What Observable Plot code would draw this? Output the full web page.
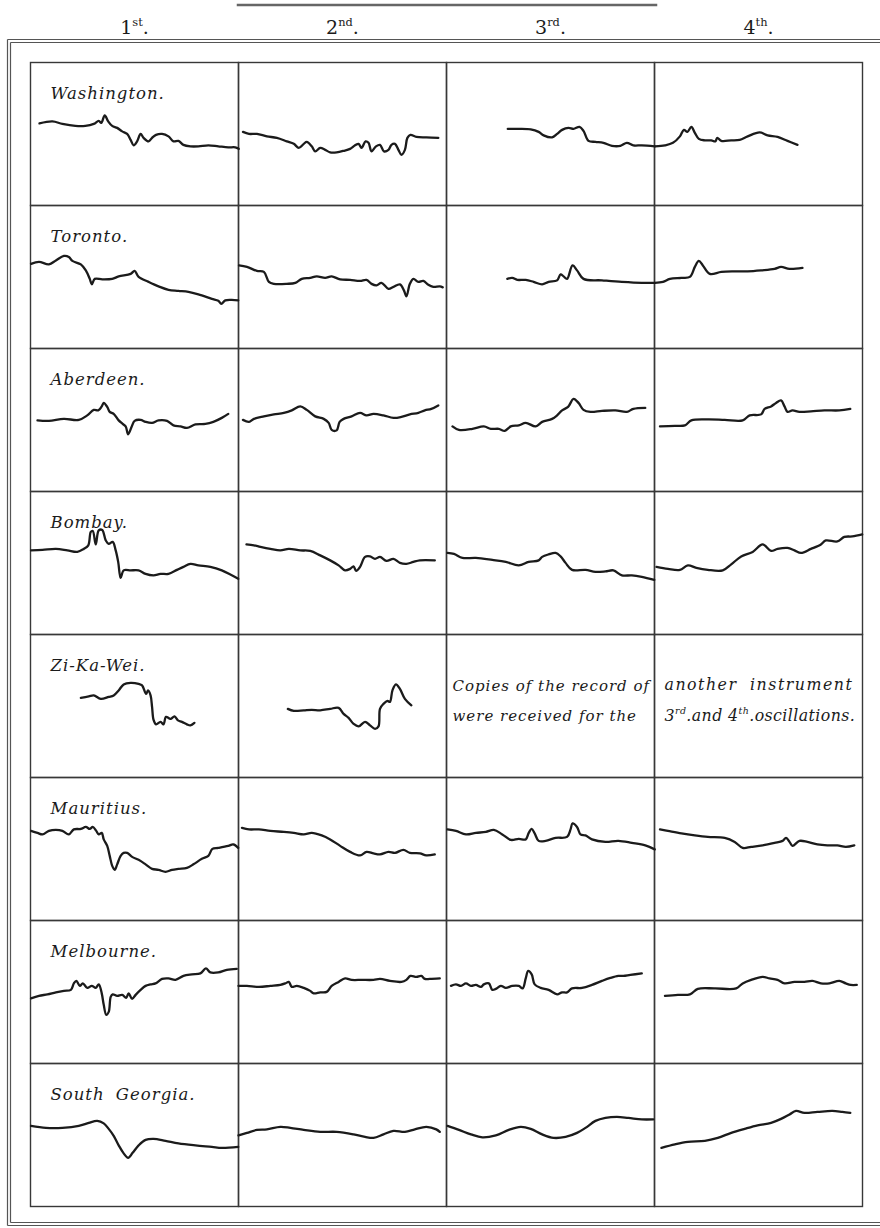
<!DOCTYPE html>
<html>
<head>
<meta charset="utf-8">
<script src="https://cdn.jsdelivr.net/npm/d3@7"></script>
<script src="https://cdn.jsdelivr.net/npm/@observablehq/plot@0.6"></script>
<style>
  html, body { margin: 0; padding: 0; background: #fff; overflow: hidden; }
  #chart svg { display: block; }
</style>
</head>
<body>
<div id="chart"></div>
<script>
// Recording stations (rows) and oscillations (columns)
const stations = ["Washington.", "Toronto.", "Aberdeen.", "Bombay.", "Zi-Ka-Wei.", "Mauritius.", "Melbourne.", "South Georgia."];
const oscillations = ["1st", "2nd", "3rd", "4th"];

// Each trace: [time along the sheet, pen deflection measured down from the top of the cell]
const washington = [
  [[9,61],[22,59],[32,61.5],[45,63.5],[55,63.5],[63.5,61.5],[68.5,58.5],[71,60.5],[74.5,53],[78,59],[82,63.5],[87,65.5],[92,69],[97,71.5],[100.5,77.5],[103.5,83],[107,79],[110.5,71.5],[113.5,75.5],[118.5,79],[122,75.5],[126,72.5],[132,71.5],[138.5,74],[143.5,79],[148.5,78.5],[153.5,82.5],[160.5,84],[168.5,84],[178.5,83],[188.5,84],[198.5,85],[205.5,85],[209,86.5]],
  [[4.5,69.5],[10.5,71.5],[18.5,71.5],[28.5,74],[38.5,75.5],[48.5,79],[55.5,81.5],[60.5,85.5],[65.5,81.5],[68.5,79.5],[73.5,84],[77,89],[82,85.5],[87,87.5],[92,90],[98.5,90],[105.5,88.5],[112,86.5],[117,83],[120.5,81.5],[123.5,85.5],[127.5,79],[130.5,80.5],[133.5,89],[138,84],[142,82.5],[146,89],[150.5,87.5],[153.5,82.5],[157,81.5],[160.5,87.5],[163.5,92.5],[167,87.5],[169.5,75.5],[172.5,72.5],[178.5,74.5],[188.5,75],[200.5,75.5]],
  [[61.5,66.5],[72.5,66.5],[84.5,67],[92.5,69.5],[97.5,73],[106,75],[111,71.5],[116,67.5],[122.5,65.5],[127.5,66.5],[133.5,64.5],[137.5,68.5],[142.5,78.5],[149.5,79.5],[157.5,80.5],[166,83.5],[174.5,83.5],[181,80.5],[187.5,83],[196,83],[209,84]],
  [[0.5,84],[10.5,83],[18.5,80.5],[25.5,74],[29.5,67.5],[33,69.5],[37,64.5],[40.5,70.5],[44.5,76.5],[50.5,78],[57,78],[61,79],[63,75.5],[67,78.5],[77,78],[85.5,77.5],[93.5,74],[105.5,70],[113.5,73],[123.5,74.5],[133.5,78.5],[143.5,82.5]]
];
const toronto = [
  [[0.5,58.5],[8.5,56.5],[18.5,59],[25.5,55],[33.5,50.5],[38.5,51.5],[42,55.5],[50.5,59],[55.5,65],[59.5,73.5],[61.5,79],[64.5,73.5],[72,74],[82,73.5],[88.5,71],[100.5,68.5],[104.5,65.5],[108.5,71.5],[118.5,76.5],[128.5,81],[138.5,84.5],[148.5,85.5],[158.5,86.5],[168.5,89],[182,93.5],[188.5,95.5],[191.5,98.5],[195.5,95],[202,94.5],[208.5,95]],
  [[0.5,60],[8.5,61.5],[18.5,65.5],[25.5,66.5],[30.5,76.5],[35.5,78.5],[48.5,78.5],[57,77.5],[63.5,73.5],[72,72.5],[78.5,71],[87,72.5],[93.5,71],[102,74],[112,74.5],[122,75.5],[128.5,74.5],[133.5,78.5],[138.5,80],[143.5,77.5],[150.5,83.5],[155.5,81.5],[162,79],[166,85],[168.5,91],[172,78.5],[175.5,73.5],[180.5,76.5],[185.5,75.5],[190.5,79.5],[195.5,81.5],[202,81],[205,82]],
  [[61,73.5],[66,72.5],[71,74.5],[79.5,74.5],[87.5,76.5],[96,79],[102.5,76.5],[111,75],[114.5,69],[117.5,71],[121,73.5],[126.5,60],[131,65],[137.5,73.5],[156,75],[176,76.5],[196,77.5],[209,77.5]],
  [[0.5,77.5],[8.5,76.5],[15.5,73.5],[27,72.5],[35.5,71.5],[40.5,61.5],[44.5,55.5],[48.5,60],[55.5,68.5],[67,66.5],[80.5,66],[93.5,66],[107,65],[120.5,63.5],[127,61.5],[135.5,63.5],[148.5,62.5]]
];
const aberdeen = [
  [[7,72],[18.5,72.5],[33.5,70.5],[48.5,71.5],[57,67],[63.5,61.5],[68,62],[71.5,58],[73.5,54.5],[77,58.5],[79.5,63.5],[83.5,65.5],[88.5,72],[92.5,75.5],[95.5,78],[98,86],[101.5,78.5],[104.5,72.5],[110.5,71.5],[115.5,73.5],[122,74.5],[128.5,72],[137,72.5],[143.5,77],[150.5,78],[157,79.5],[165.5,76],[175.5,75.5],[183.5,73.5],[192,69.5],[198.5,65.5]],
  [[4.5,71.5],[10.5,73.5],[15.5,70.5],[25.5,68],[35.5,66],[45.5,64.5],[53.5,62],[62,58],[68.5,61.5],[77,68],[85.5,70.5],[90.5,74.5],[93.5,81.5],[98.5,82],[101.5,73.5],[105.5,70.5],[113.5,68],[122,64.5],[128.5,67],[135.5,65.5],[145.5,67],[155.5,69.5],[163.5,68.5],[172,66],[180.5,64.5],[187,62],[193.5,60.5],[200.5,57]],
  [[6,78],[12.5,81.5],[26,80.5],[37.5,78],[44.5,80.5],[52.5,80.5],[58.5,82.5],[64.5,78],[72.5,77],[79.5,74.5],[89.5,78],[96,73.5],[106,70.5],[111,67],[116,62],[122,58.5],[127.5,50.5],[132.5,54.5],[137.5,61.5],[144.5,63.5],[156,62.5],[169.5,62],[181,63.5],[187.5,60.5],[199.5,59.5]],
  [[5.5,78],[20.5,77.5],[30.5,77],[37,72],[53.5,71],[70.5,71.5],[88.5,72],[95.5,67],[107,66],[110.5,60.5],[117,58],[122,54.5],[127,52],[130.5,58],[133.5,63.5],[138.5,62],[145.5,63.5],[157,63],[170.5,62],[185.5,62],[196.5,60.5]]
];
const bombay = [
  [[0.5,59],[12,58.5],[25.5,57.5],[37,59],[47,60.5],[53.5,57.5],[58,54],[60.5,40.5],[62.5,39.5],[65.5,53],[68.5,39],[72,38.5],[75.5,49],[78.5,52.5],[82.5,50.5],[85.5,59],[88,70.5],[90.5,86.5],[93.5,79],[100.5,79],[108.5,79],[115.5,82.5],[123.5,84],[130.5,82.5],[138.5,82.5],[147,78.5],[153.5,75.5],[160.5,72.5],[168.5,74],[180.5,75.5],[192,79],[202,84],[208.5,87.5]],
  [[8,53],[15.5,54],[22,55.5],[32,57.5],[42,59],[50.5,57.5],[62,59],[72,59.5],[82,64],[92,69],[100.5,74],[107,79],[112,77.5],[115.5,75],[118,79.5],[122,75.5],[127,65.5],[132,65],[137,67.5],[142,65.5],[148.5,69.5],[155.5,67.5],[162,71.5],[168.5,72.5],[175.5,70.5],[182,69],[197,69]],
  [[1,61.5],[7.5,62.5],[16,66.5],[29.5,66.5],[46,68.5],[59.5,70.5],[72.5,74],[82.5,70.5],[92.5,69],[96,65.5],[102.5,63],[109.5,61.5],[114.5,65],[119.5,71.5],[126,78.5],[139.5,78.5],[149.5,80.5],[159.5,80],[167.5,79],[176,84],[186,84],[196,85.5],[208.5,88.5]],
  [[2,75.5],[13.5,77.5],[25.5,78.5],[33.5,74],[42,76.5],[53.5,78.5],[68.5,79],[77,73],[87,65],[98.5,60.5],[108.5,53],[117,59.5],[123.5,57.5],[133.5,56.5],[140.5,59],[147,61.5],[157,57.5],[167,53],[172,49],[183.5,50],[190.5,45.5],[198.5,45],[208.5,43]]
];
const zikawei = [
  [[50.5,63.5],[58.5,62],[63.5,61],[70.5,64.5],[78.5,62.5],[83.5,61],[88.5,56],[93.5,50],[100.5,48.5],[108.5,49.5],[112,51],[116,59.5],[118,56],[120.5,61],[122,72.5],[123.5,85.5],[126,90],[130.5,87.5],[133.5,90],[136,82.5],[140.5,84.5],[144.5,82],[148,86],[152,87.5],[157,90],[160.5,91],[164.5,88.5]],
  [[49.5,74.5],[55.5,76.5],[65.5,76],[73.5,75.5],[82,76],[92,74.5],[100.5,73.5],[105.5,79.5],[110.5,83.5],[115.5,89.5],[120.5,92],[127,87.5],[132,91],[137,94.5],[140.5,92],[142,74.5],[145.5,69.5],[149.5,66.5],[152,67.5],[154.5,56],[158,50],[162,54.5],[167,64.5],[173.5,71]],
  null,
  null
];
const mauritius = [
  [[0.5,53.5],[7,55.5],[12,57],[18.5,53.5],[25.5,52.5],[32,53.5],[38.5,57],[43.5,52],[50.5,51.5],[55.5,49.5],[59.5,51.5],[62.5,49.5],[66,53.5],[68.5,57],[71.5,55.5],[73.5,62],[77,68.5],[79.5,78.5],[82,88.5],[84.5,92.5],[87,87],[90.5,78.5],[93.5,75.5],[97,75.5],[102,79.5],[108.5,82.5],[115.5,87],[122,91.5],[128.5,92.5],[135.5,94.5],[142,92.5],[148.5,91.5],[157,90.5],[163.5,87],[172,81.5],[178.5,78.5],[182.5,71.5],[188.5,70.5],[198.5,68.5],[203.5,67],[208.5,70.5]],
  [[3.5,50.5],[10.5,52],[20.5,52],[32,53.5],[45.5,54.5],[55.5,55.5],[65.5,57],[73.5,55.5],[83.5,58],[92,62],[102,68.5],[112,74.5],[122,78],[128.5,74.5],[135.5,76],[142,77],[150.5,74.5],[157,75.5],[165.5,72.5],[172,75.5],[182,76],[188.5,78],[197,77]],
  [[1,52],[9.5,53.5],[19.5,57],[29.5,55.5],[39.5,54.5],[47.5,52.5],[56,57],[64.5,62.5],[72.5,61.5],[79.5,62],[82.5,55.5],[85.5,51.5],[88.5,56],[92.5,63.5],[99.5,63.5],[109.5,60.5],[121,59.5],[124.5,52],[126.5,46],[131,49.5],[134.5,57],[139.5,58],[146,62],[159.5,64.5],[172.5,63.5],[186,65.5],[199.5,68],[209,72]],
  [[5.5,52],[13.5,53.5],[27,56],[40.5,58],[53.5,59.5],[70.5,60.5],[80.5,64.5],[88.5,70.5],[97,69.5],[108.5,68],[120.5,65.5],[128.5,63.5],[132,60.5],[135.5,64.5],[138.5,68.5],[145.5,63.5],[153.5,64.5],[163.5,67],[173.5,68],[183.5,68],[192,69.5],[200.5,68]]
];
const melbourne = [
  [[0.5,78],[8.5,75.5],[17,74],[25.5,72],[33.5,70.5],[40.5,69.5],[43.5,63],[46,60.5],[49.5,65.5],[52.5,63],[57,67.5],[61.5,65.5],[65.5,67.5],[68.5,64],[71.5,73],[73.5,84.5],[76,94.5],[78.5,91.5],[80.5,76.5],[82.5,74],[87,75.5],[92,74.5],[96,77.5],[98.5,73],[102,78.5],[105.5,74.5],[110.5,69.5],[115.5,65.5],[120.5,64],[125.5,63],[132,58.5],[138.5,58],[145.5,59.5],[153.5,55.5],[162,54],[170.5,53],[176,48],[180.5,52],[188.5,52],[197,49.5],[207,48.5]],
  [[0,65.5],[8.5,65.5],[20.5,66.5],[32,65.5],[42,64.5],[47,63],[50.5,61.5],[53.5,66.5],[58.5,65.5],[65.5,67.5],[72,70.5],[75.5,73],[82,72],[88.5,71.5],[93.5,65.5],[100.5,61.5],[107,58],[113.5,59.5],[123.5,59.5],[135.5,59.5],[142,58.5],[152,60.5],[163.5,61.5],[168.5,59.5],[172.5,55.5],[178.5,56.5],[183.5,55.5],[187,58.5],[192,58.5],[202,58]],
  [[4.5,65.5],[9.5,64],[14.5,65.5],[19.5,63],[24.5,65.5],[29.5,64.5],[34.5,66.5],[37.5,64],[42.5,63],[46,69.5],[49.5,68.5],[54.5,65.5],[59.5,67.5],[66,65.5],[72.5,65.5],[76.5,68],[79.5,58],[82,50.5],[85.5,54],[88.5,64],[94.5,67.5],[102.5,69.5],[111,74],[116,72],[121,72],[126,68],[136,67.5],[146,64.5],[156,60.5],[164.5,57.5],[172.5,55.5],[177.5,55.5],[184.5,54.5],[196,53]],
  [[10.5,75.5],[23.5,74.5],[35.5,74],[43.5,68.5],[60.5,68],[82,68],[88.5,63],[97,59.5],[108.5,56.5],[115.5,58],[123.5,59.5],[130.5,63],[140.5,61.5],[150.5,61.5],[158.5,60.5],[167,63],[175.5,63],[185.5,60.5],[192,63],[197,64.5],[203,64.5]]
];
const southGeorgia = [
  [[0.5,62.5],[15.5,64.5],[32,64.5],[48.5,62.5],[58.5,59.5],[67,57.5],[73.5,60],[78.5,65.5],[83.5,72.5],[88.5,82],[93.5,90],[98,94.5],[102.5,89.5],[108.5,82],[115.5,76.5],[123.5,75.5],[135.5,77.5],[148.5,80],[165.5,82],[182,83.5],[192,84.5],[208.5,83.5]],
  [[0,72],[8.5,69.5],[18.5,66.5],[28.5,66],[42,63.5],[52,64.5],[65.5,66.5],[82,68.5],[98.5,68.5],[115.5,71],[127,73.5],[135.5,74.5],[145.5,71],[155.5,67.5],[167,68.5],[177,66],[188.5,63.5],[198.5,66],[202,68.5]],
  [[1,62.5],[12.5,66.5],[24.5,71],[36,74],[49.5,72],[62.5,66.5],[74.5,63.5],[84.5,65.5],[96,71],[107.5,74.5],[119.5,73.5],[131,69.5],[139.5,64.5],[149.5,57.5],[159.5,54.5],[171,53.5],[182.5,54.5],[196,56],[207.5,56]],
  [[7,84.5],[20.5,81],[33.5,78.5],[50.5,77.5],[63.5,74.5],[77,69.5],[90.5,65.5],[103.5,62],[117,59.5],[127,55.5],[135.5,51],[142,47.5],[150.5,49.5],[163.5,48.5],[178.5,47.5],[188.5,48.5],[196.5,49.5]]
];

// Note written across the two empty Zi-Ka-Wei cells ("^xx." marks a raised ordinal)
const zikaweiNote3 = ["Copies of the record of\nwere received for the"];
const zikaweiNote4 = ["another instrument\n3^rd.and 4^th.oscillations."];

const records = [washington, toronto, aberdeen, bombay, zikawei, mauritius, melbourne, southGeorgia];

// Flatten into one tidy table for the line mark
const rows = [];
records.forEach((set, i) => set.forEach((trace, j) => {
  if (!trace) return;
  trace.forEach(([t, v]) => rows.push({station: stations[i], osc: oscillations[j], key: `${i}-${j}`, t, v}));
}));

// Layout
const W = 880, H = 1228;
const M = {top: 61, right: 17, bottom: 21, left: 28};
const cellW = (W - M.left - M.right) / oscillations.length;
const cellH = (H - M.top - M.bottom) / stations.length;
const ink = "#1b1b1b";
const rule = "#383838";

const plot = Plot.plot({
  width: W,
  height: H,
  marginTop: M.top,
  marginRight: M.right,
  marginBottom: M.bottom,
  marginLeft: M.left,
  style: {background: "#fff", fontFamily: "'DejaVu Serif', serif", color: ink},
  x: {domain: [0, cellW], axis: null},
  y: {domain: [0, cellH], reverse: true, axis: null},
  fx: {domain: oscillations, padding: 0, axis: null},
  fy: {domain: stations, padding: 0, axis: null},
  marks: [
    Plot.frame({stroke: rule, strokeWidth: 1.4}),
    Plot.line(rows, {
      fx: "osc", fy: "station", x: "t", y: "v", z: "key",
      curve: "catmull-rom", stroke: ink, strokeWidth: 2.3, strokeLinejoin: "round", strokeLinecap: "round"
    }),
    // station names, top-left of the first column
    Plot.text(stations, {
      fx: () => oscillations[0], fy: d => d, text: d => d,
      frameAnchor: "top-left", dx: 20, dy: 36, lineAnchor: "bottom",
      fontStyle: "italic", fontSize: 16.5, fill: ink,
      className: "station-name"
    }),
    // column headings above the table
    Plot.text(oscillations, {
      fx: d => d, fy: () => stations[0], text: d => d[0] + "^" + d.slice(1) + ".",
      frameAnchor: "top", dy: -29, lineAnchor: "bottom",
      fontSize: 19, fill: ink
    }),
    Plot.text(zikaweiNote3, {
      fx: () => "3rd", fy: () => "Zi-Ka-Wei.", text: d => d,
      frameAnchor: "top-left", dx: 6, dy: 86, lineAnchor: "bottom", lineHeight: 2,
      fontStyle: "italic", fontSize: 15, fill: ink,
      className: "note-3"
    }),
    Plot.text(zikaweiNote4, {
      fx: () => "4th", fy: () => "Zi-Ka-Wei.", text: d => d,
      frameAnchor: "top-left", dx: 10, dy: 86, lineAnchor: "bottom", lineHeight: 1.9,
      fontStyle: "italic", fontSize: 15.8, fill: ink,
      className: "note-4"
    })
  ]
});

document.getElementById("chart").appendChild(plot);

// Engraved lettering is set wide
d3.select(plot).selectAll(".station-name text").style("letter-spacing", "1px").style("word-spacing", "5px");
d3.select(plot).selectAll(".note-3 text").style("letter-spacing", "1px");
d3.select(plot).selectAll(".note-4 text > tspan")
  .style("letter-spacing", (d, i) => i === 0 ? "1.5px" : "0.4px")
  .style("word-spacing", (d, i) => i === 0 ? "6px" : "0px");

// Raised ordinals ("1st.", "3rd.", ...)
const SVGNS = "http://www.w3.org/2000/svg";
function ordinals(node) {
  const parts = node.textContent.split(/\^([a-z]+)\./);
  const fs = parseFloat(getComputedStyle(node).fontSize);
  const rise = 0.42 * fs;
  node.textContent = "";
  parts.forEach((p, i) => {
    const t = document.createElementNS(SVGNS, "tspan");
    if (i % 2 === 0) {
      if (!p) return;
      t.textContent = p;
    } else {
      t.textContent = p;
      t.setAttribute("dy", -rise);
      t.setAttribute("font-size", 0.6 * fs);
      node.appendChild(t);
      const dot = document.createElementNS(SVGNS, "tspan");
      dot.textContent = ".";
      dot.setAttribute("dy", rise);
      node.appendChild(dot);
      return;
    }
    node.appendChild(t);
  });
}
d3.select(plot).selectAll("text, tspan").each(function () {
  if (this.childElementCount === 0 && this.textContent.includes("^")) ordinals(this);
});

// Ruled border of the sheet: a double rule on the top, left and bottom, and a bar above the middle headings
const border = d3.select(plot).append("g").attr("fill", "none").attr("stroke", "#555");
const outer = {x: M.left - 20.5, top: M.top - 21.5, bottom: H - 2.5};
const gap = 3;
[
  [outer.x, outer.top, W, outer.top],
  [outer.x + gap, outer.top + gap, W, outer.top + gap],
  [outer.x, outer.top, outer.x, outer.bottom],
  [outer.x + gap, outer.top + gap, outer.x + gap, outer.bottom - gap],
  [outer.x, outer.bottom, W, outer.bottom],
  [outer.x + gap, outer.bottom - gap, W, outer.bottom - gap]
].forEach(([x1, y1, x2, y2]) =>
  border.append("line").attr("x1", x1).attr("y1", y1).attr("x2", x2).attr("y2", y2).attr("stroke-width", 1.2));
border.append("line")
  .attr("x1", M.left + cellW).attr("x2", M.left + 3 * cellW + 3)
  .attr("y1", 5).attr("y2", 5)
  .attr("stroke-width", 2.4).attr("stroke", "#666");
</script>
</body>
</html>
